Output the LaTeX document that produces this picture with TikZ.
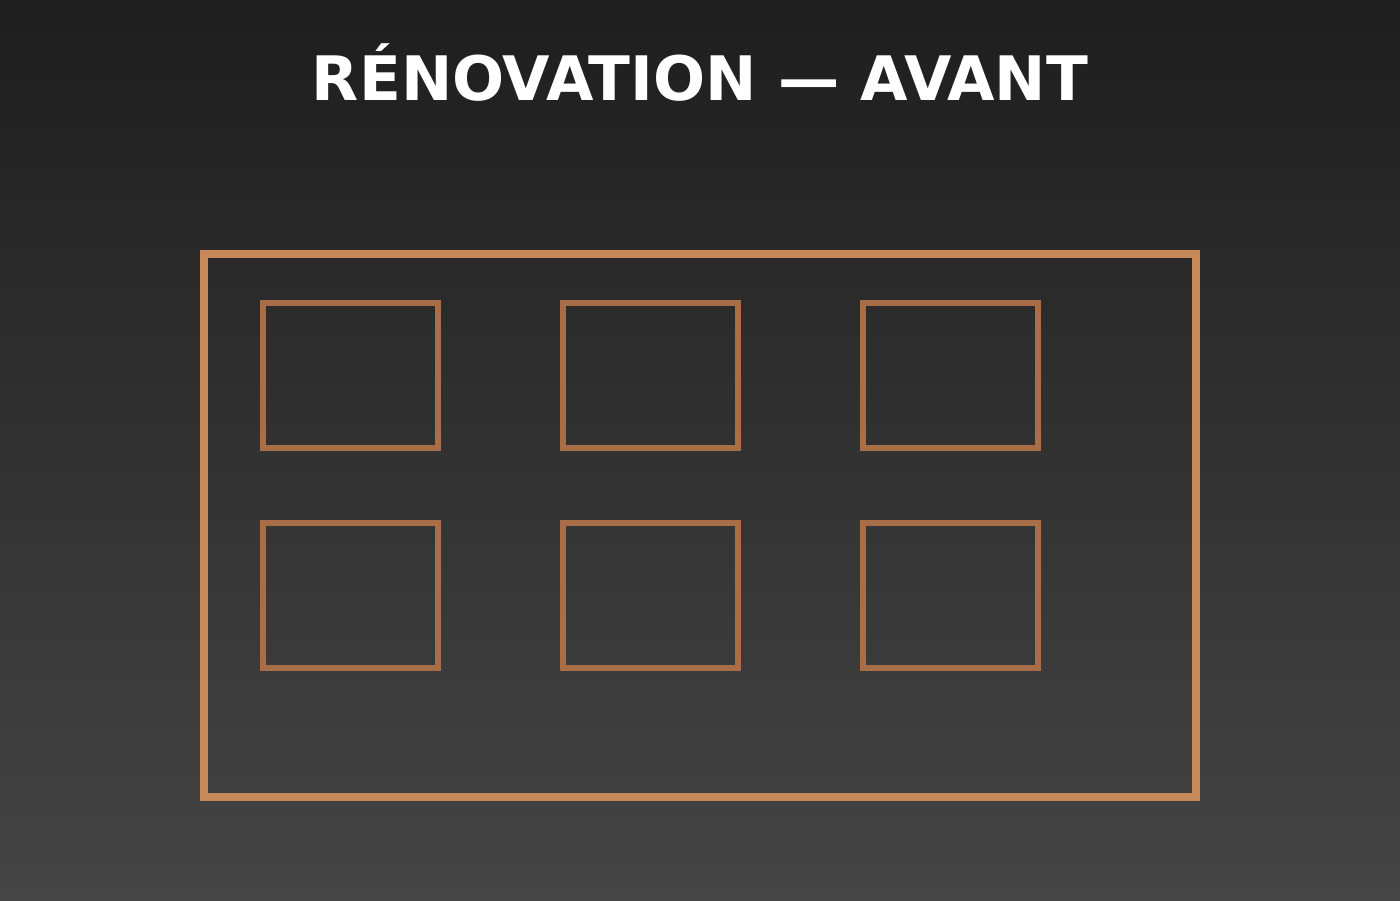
\documentclass[tikz,border=0pt]{standalone}
\usepackage{fontspec}
\setmainfont{DejaVu Sans}
\definecolor{bgTop}{HTML}{1E1E1E}
\definecolor{bgBottom}{HTML}{454545}
\definecolor{frameCol}{HTML}{C8895A}
\definecolor{panelCol}{HTML}{A86E48}
\tikzset{
    frame/.style={draw=frameCol, line width=4.55pt, minimum width=992*0.02cm, minimum height=543*0.02cm, inner sep=0pt},
    panel/.style={draw=panelCol, line width=3.4pt, minimum width=175*0.02cm, minimum height=145*0.02cm, inner sep=0pt},
}
\begin{document}
\begin{tikzpicture}[x=0.02cm, y=-0.02cm]
    % background
    \shade[top color=bgTop, bottom color=bgBottom] (0,0) rectangle (1400,900);
    \useasboundingbox (0,0) rectangle (1400,900);

    % title
    \node[anchor=base, text=white, font=\bfseries\fontsize{34.9}{40}\selectfont] (title) at (700, 100) {RÉNOVATION — AVANT};

    % outer wall
    \node[frame] (wall) at (700, 525.5) {};

    % row 1
    \node[panel] (panelA) at (350.5, 375.5) {};
    \node[panel] (panelB) at (650.5, 375.5) {};
    \node[panel] (panelC) at (950.5, 375.5) {};

    % row 2
    \node[panel] (panelD) at (350.5, 595.5) {};
    \node[panel] (panelE) at (650.5, 595.5) {};
    \node[panel] (panelF) at (950.5, 595.5) {};
\end{tikzpicture}
\end{document}
